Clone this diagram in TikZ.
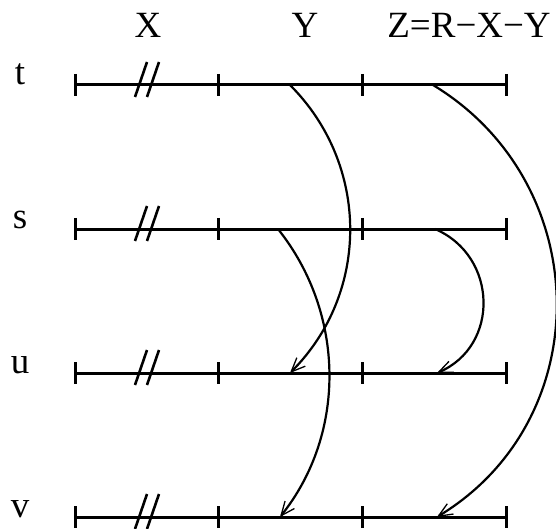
\documentclass[tikz,border=0pt]{standalone}
\usepackage{fontspec}
\setmainfont{Liberation Serif}[Ligatures=TeX]
\usetikzlibrary{arrows.meta, positioning, calc}

\begin{document}
\begin{tikzpicture}[
        x=1pt, y=-1pt,
        etiqueta/.style={
            font=\rmfamily\fontsize{37}{40}\selectfont,
            inner sep=0pt,
            anchor=base
        },
        linea/.style={line width=3pt},
        flecha/.style={
            line width=2.2pt,
            -{Straight Barb[length=14pt, width=12pt, line width=1.3pt]}
        },
        tic/.pic={\draw[line width=3pt] (0,-11) -- (0,11);},
        corte/.pic={\draw[line width=2.6pt] (-12,12) -- (0,-23) (0,12) -- (12,-23);}
    ]
        \useasboundingbox (0,0) rectangle (556,529);

        % columnas
        \node[etiqueta] (colx) at (148,38) {X};
        \node[etiqueta] (coly) at (305,38) {Y};
        \node[etiqueta] (colz) at (469,38) {Z=R−X−Y};

        % filas
        \node[etiqueta] (t) at (20,85) {t};
        \coordinate (t0) at (75,85);  \coordinate (t3) at (506,85);
        \draw[linea] (t0) -- (t3);
        \pic at (t0) {tic}; \pic at (218,85) {tic}; \pic at (362,85) {tic}; \pic at (t3) {tic};
        \pic at (147,85) {corte};

        \node[etiqueta] (s) at (20,229) {s};
        \coordinate (s0) at (75,229);  \coordinate (s3) at (506,229);
        \draw[linea] (s0) -- (s3);
        \pic at (s0) {tic}; \pic at (218,229) {tic}; \pic at (362,229) {tic}; \pic at (s3) {tic};
        \pic at (147,229) {corte};

        \node[etiqueta] (u) at (20,373) {u};
        \coordinate (u0) at (75,373);  \coordinate (u3) at (506,373);
        \draw[linea] (u0) -- (u3);
        \pic at (u0) {tic}; \pic at (218,373) {tic}; \pic at (362,373) {tic}; \pic at (u3) {tic};
        \pic at (147,373) {corte};

        \node[etiqueta] (v) at (20,517) {v};
        \coordinate (v0) at (75,517);  \coordinate (v3) at (506,517);
        \draw[linea] (v0) -- (v3);
        \pic at (v0) {tic}; \pic at (218,517) {tic}; \pic at (362,517) {tic}; \pic at (v3) {tic};
        \pic at (147,517) {corte};

        % extremos de los arcos
        \coordinate (ta) at (290,85);  \coordinate (tb) at (433,85);
        \coordinate (sa) at (278,229); \coordinate (sb) at (435,229);
        \coordinate (ua) at (290,373); \coordinate (ub) at (437,373);
        \coordinate (va) at (280,517); \coordinate (vb) at (437,517);

        \draw[flecha] (ta) .. controls +(80,80) and +(80,-80) .. (ua);
        \draw[flecha] (sa) .. controls +(67,84) and +(67,-84) .. (va);
        \draw[flecha] (sb) .. controls +(63,27) and +(63,-27) .. (ub);
        \draw[flecha] (tb) .. controls +(162,98) and +(162,-98) .. (vb);
    \end{tikzpicture}
\end{document}
